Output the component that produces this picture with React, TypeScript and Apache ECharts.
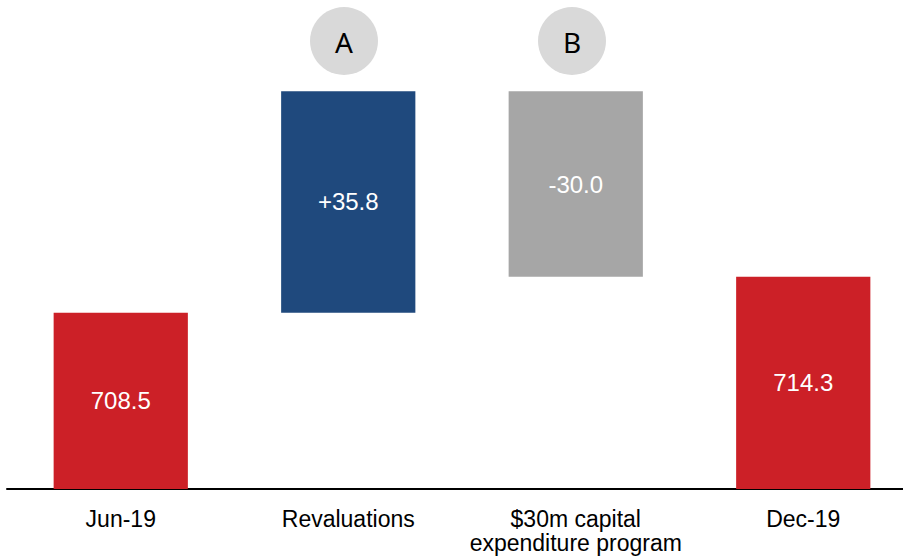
import React, { useEffect, useRef } from "react";
import * as echarts from "echarts";

const categories = ["Jun-19", "Revaluations", "$30m capital\nexpenditure program", "Dec-19"];
const values = [708.5, 35.8, -30.0, 714.3];
const kinds = ["total", "delta", "delta", "total"];
const barColors = ["#cc2027", "#1f497d", "#a6a6a6", "#cc2027"];
const markers = [
  { letter: "A", x: 344, y: 41 },
  { letter: "B", x: 572, y: 41 },
];
const axisMin = 680;
const axisMax = 750;

function buildBars() {
  let running = 0;
  return values.map((v, i) => {
    let lo: number, hi: number, label: string;
    if (kinds[i] === "total") {
      lo = axisMin;
      hi = v;
      running = v;
      label = v.toFixed(1);
    } else {
      const start = running;
      running = running + v;
      lo = Math.min(start, running);
      hi = Math.max(start, running);
      label = (v >= 0 ? "+" : "") + v.toFixed(1);
    }
    return { value: [i, lo, hi], label };
  });
}

export default function App() {
  const ref = useRef<HTMLDivElement>(null);
  useEffect(() => {
    if (!ref.current) return;
    const chart = echarts.init(ref.current, null, { renderer: "svg" });
    const bars = buildBars();
    const font = "'Liberation Sans', Arial, sans-serif";
    chart.setOption({
      animation: false,
      backgroundColor: "#ffffff",
      grid: { left: 7, width: 910, top: 56, height: 433, containLabel: false },
      xAxis: {
        type: "category",
        data: categories,
        axisTick: { show: false },
        axisLine: { lineStyle: { color: "#000000", width: 2 } },
        axisLabel: {
          color: "#000000",
          fontSize: 23,
          fontFamily: font,
          margin: 18,
          lineHeight: 24,
          interval: 0,
        },
        splitLine: { show: false },
      },
      yAxis: {
        type: "value",
        show: false,
        min: axisMin,
        max: axisMax,
        splitLine: { show: false },
      },
      series: [
        {
          type: "custom",
          encode: { x: 0, y: [1, 2] },
          data: bars.map((b) => b.value),
          renderItem: (params: any, api: any) => {
            const i = api.value(0);
            const lo = api.value(1);
            const hi = api.value(2);
            const p0 = api.coord([i, lo]);
            const p1 = api.coord([i, hi]);
            const bw = api.size([1, 0])[0] * 0.59;
            const idx = params.dataIndex;
            return {
              type: "rect",
              shape: { x: p0[0] - bw / 2, y: p1[1], width: bw, height: p0[1] - p1[1] },
              style: { fill: barColors[idx] },
              textContent: {
                style: {
                  text: bars[idx].label,
                  fill: "#ffffff",
                  fontSize: 24,
                  fontFamily: font,
                },
              },
              textConfig: { position: "inside" },
            };
          },
        },
      ],
      graphic: markers.flatMap((m) => [
        {
          type: "circle",
          shape: { cx: m.x, cy: m.y, r: 34 },
          style: { fill: "#d9d9d9" },
        },
        {
          type: "text",
          x: m.x,
          y: m.y + 1,
          style: {
            text: m.letter,
            fill: "#000000",
            fontSize: 28,
            fontFamily: "'Noto Sans', 'Open Sans', sans-serif",
            align: "center",
            verticalAlign: "middle",
          },
        },
      ]),
    });
    return () => chart.dispose();
  }, []);
  return (
    <div
      ref={ref}
      style={{ position: "fixed", left: 0, top: 0, width: 920, height: 560 }}
    />
  );
}
